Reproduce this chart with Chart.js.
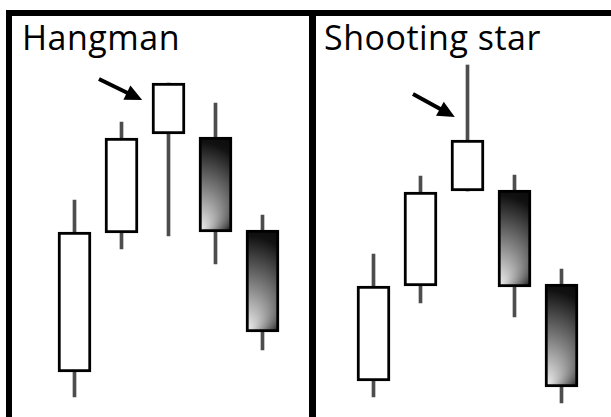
<!DOCTYPE html>
<html>
<head>
<meta charset="utf-8">
<script src="https://cdn.jsdelivr.net/npm/chart.js@4.4.1/dist/chart.umd.min.js"></script>
<style>
  html, body { margin: 0; padding: 0; background: #fff; }
  body { width: 611px; height: 417px; position: relative; overflow: hidden; font-family: "Open Sans", sans-serif; }
  .rule { position: absolute; background: #000; }
  .title { position: absolute; top: 20px; font-size: 34px; line-height: 34px; letter-spacing: 0.5px; color: #000; white-space: nowrap; }
  canvas { position: absolute; top: 17px; }
</style>
</head>
<body>
<div class="rule" style="left:6px; top:10px; width:605px; height:6px"></div>
<div class="rule" style="left:6px; top:10px; width:6px; height:407px"></div>
<div class="rule" style="left:309px; top:10px; width:7px; height:407px"></div>
<div class="title" style="left:22px">Hangman</div>
<div class="title" style="left:324px">Shooting star</div>
<canvas id="hangmanChart" width="235" height="400" style="left:51px"></canvas>
<canvas id="starChart" width="235" height="400" style="left:350px"></canvas>
<script>
const candleLabels = ["1", "2", "3", "4", "5"];

// hangman panel
const hangmanOpen  = [11.25, 46, 70.75, 70, 46.75];
const hangmanClose = [46.25, 69.75, 83.5, 46.25, 21.25];
const hangmanHigh  = [54.25, 73.75, 83.5, 78.5, 50.5];
const hangmanLow   = [5, 42, 45.25, 38.25, 16.75];
const hangmanArrow = [[0.52, 84.5], [1.44, 79.25]];

// shooting star panel
const starOpen  = [9, 32.75, 56.5, 56.75, 33.25];
const starClose = [32.75, 56.25, 69.25, 32.5, 7.5];
const starHigh  = [40.75, 60.25, 88, 60.5, 37];
const starLow   = [5, 28.5, 56.5, 25, 3.5];
const starArrow = [[0.84, 80.75], [1.73, 75]];

const BODY_W = 33;

const arrowPlugin = {
  id: "arrow",
  afterDatasetsDraw(chart, args, opts) {
    const { ctx, scales } = chart;
    const x0 = scales.x.getPixelForValue(opts.from[0]);
    const y0 = scales.y.getPixelForValue(opts.from[1]);
    const x1 = scales.x.getPixelForValue(opts.to[0]);
    const y1 = scales.y.getPixelForValue(opts.to[1]);
    const a = Math.atan2(y1 - y0, x1 - x0);
    const cos = Math.cos(a), sin = Math.sin(a);
    const head = 17, half = 8;
    const bx = x1 - head * cos, by = y1 - head * sin;
    ctx.save();
    ctx.strokeStyle = "#000";
    ctx.fillStyle = "#000";
    ctx.lineWidth = 4;
    ctx.beginPath();
    ctx.moveTo(x0, y0);
    ctx.lineTo(bx + 2 * cos, by + 2 * sin);
    ctx.stroke();
    ctx.beginPath();
    ctx.moveTo(x1, y1);
    ctx.lineTo(bx + half * sin, by - half * cos);
    ctx.lineTo(bx - half * sin, by + half * cos);
    ctx.closePath();
    ctx.fill();
    ctx.restore();
  }
};

function bodyFill(c, open, close) {
  const i = c.dataIndex;
  if (i === undefined) return "#000";
  if (close[i] >= open[i]) return "#fff";
  const { chartArea, scales } = c.chart;
  if (!chartArea) return "#000";
  const left = scales.x.getPixelForValue(i) - BODY_W / 2;
  const bottom = scales.y.getPixelForValue(close[i]);
  const h = bottom - scales.y.getPixelForValue(open[i]);
  const g = c.chart.ctx.createRadialGradient(left, bottom, 0, left, bottom - h * 0.6, h * 0.75);
  g.addColorStop(0, "#f4f4f4");
  g.addColorStop(0.35, "#808080");
  g.addColorStop(0.7, "#111");
  g.addColorStop(1, "#000");
  return g;
}

function renderCandles(id, open, close, high, low, arrow) {
  new Chart(document.getElementById(id), {
    type: "bar",
    data: {
      labels: candleLabels,
      datasets: [
        {
          data: low.map((l, i) => [l, high[i]]),
          backgroundColor: "#4d4d4d",
          barThickness: 3,
          grouped: false,
          order: 2
        },
        {
          data: open.map((o, i) => [o, close[i]]),
          backgroundColor: c => bodyFill(c, open, close),
          borderColor: "#000",
          borderWidth: 3,
          borderSkipped: false,
          barThickness: BODY_W,
          grouped: false,
          order: 1
        }
      ]
    },
    options: {
      responsive: false,
      animation: false,
      events: [],
      layout: { padding: 0 },
      plugins: {
        legend: { display: false },
        tooltip: { enabled: false },
        arrow: { from: arrow[0], to: arrow[1] }
      },
      scales: {
        x: { display: false },
        y: { display: false, min: 0, max: 100 }
      }
    },
    plugins: [arrowPlugin]
  });
}

renderCandles("hangmanChart", hangmanOpen, hangmanClose, hangmanHigh, hangmanLow, hangmanArrow);
renderCandles("starChart", starOpen, starClose, starHigh, starLow, starArrow);
</script>
</body>
</html>
